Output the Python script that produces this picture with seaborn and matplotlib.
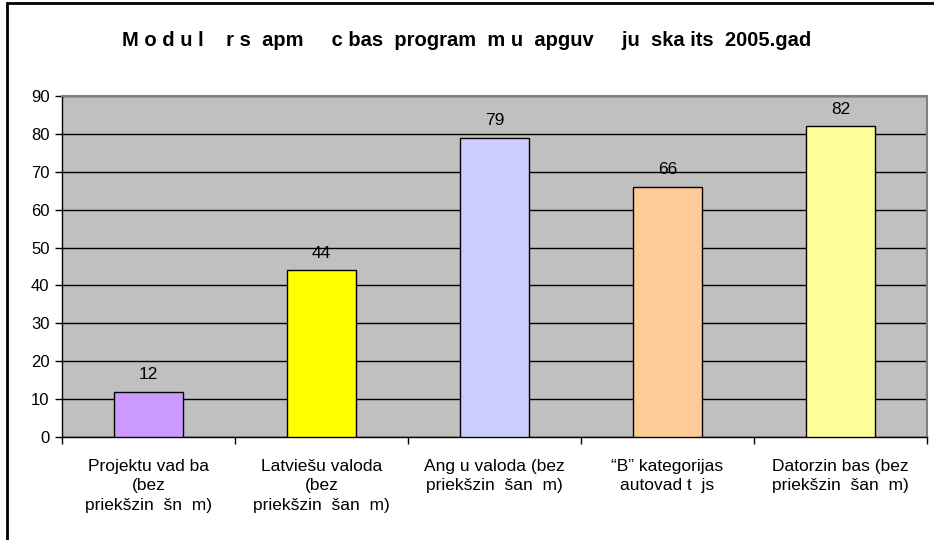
import matplotlib
matplotlib.use("Agg")
import matplotlib.pyplot as plt
import matplotlib.patches as mpatches
from matplotlib.ticker import MultipleLocator, FixedLocator
import pandas as pd
import seaborn as sns

# data
categories = [
    "Projektu vad ba\n(bez\npriekšzin  šn  m)",
    "Latviešu valoda\n(bez\npriekšzin  šan  m)",
    "Ang u valoda (bez\npriekšzin  šan  m)",
    "\u201cB\u201d kategorijas\nautovad t  js",
    "Datorzin bas (bez\npriekšzin  šan  m)",
]
values = [12, 44, 79, 66, 82]
colors = ["#CC99FF", "#FFFF00", "#CCCCFF", "#FFCC99", "#FFFF99"]
title = "M o d u l    r s  apm     c bas  program  m u  apguv     ju  ska its  2005.gad"

df = pd.DataFrame({"kategorija": categories, "skaits": values})

sns.set_style("white")
plt.rcParams["font.family"] = ["Liberation Sans", "DejaVu Sans"]
plt.rcParams["text.color"] = "black"
plt.rcParams["xtick.color"] = "black"
plt.rcParams["ytick.color"] = "black"

fig = plt.figure(figsize=(9.34, 5.4), dpi=100)
ax = fig.add_axes([62 / 934, 1 - 437 / 540, (927 - 62) / 934, (437 - 96) / 540])

sns.barplot(data=df, x="kategorija", y="skaits", hue="kategorija",
            palette=colors, saturation=1, width=0.4, edgecolor="black",
            linewidth=1, legend=False, ax=ax, zorder=3)

ax.set_facecolor("#C0C0C0")
ax.set_ylim(0, 90)
ax.set_xlim(-0.5, len(categories) - 0.5)
ax.yaxis.set_major_locator(MultipleLocator(10))
ax.grid(axis="y", color="black", linewidth=1, zorder=0)
ax.set_axisbelow(True)
ax.set_xlabel("")
ax.set_ylabel("")

for s in ["top", "right"]:
    ax.spines[s].set_color("#808080")
    ax.spines[s].set_linewidth(1.5)
for s in ["left", "bottom"]:
    ax.spines[s].set_color("black")
    ax.spines[s].set_linewidth(1)

ax.tick_params(axis="y", length=5, width=1, color="black", labelsize=12, pad=4, left=True)
ax.tick_params(axis="x", which="major", length=0, labelsize=12.5, pad=16)
ax.xaxis.set_minor_locator(FixedLocator([i + 0.5 for i in range(-1, len(categories))]))
ax.tick_params(axis="x", which="minor", length=5, width=1, color="black", bottom=True)
for lbl in ax.get_xticklabels():
    lbl.set_linespacing(1.35)

for i, v in enumerate(values):
    ax.text(i, v + 2.5, str(v), ha="center", va="bottom", fontsize=12.5)

fig.text(0.5, 1 - 40 / 540, title, ha="center", va="center",
         fontsize=14.5, fontweight="bold",
         family=["Liberation Sans Narrow", "Liberation Sans", "DejaVu Sans"])

border = mpatches.Rectangle((7 / 934, -0.1), 1.2, 1.1 - 3 / 540,
                            transform=fig.transFigure, fill=False,
                            edgecolor="black", linewidth=2, clip_on=False)
fig.patches.append(border)

fig.savefig("out.png", dpi=100, facecolor="white")
